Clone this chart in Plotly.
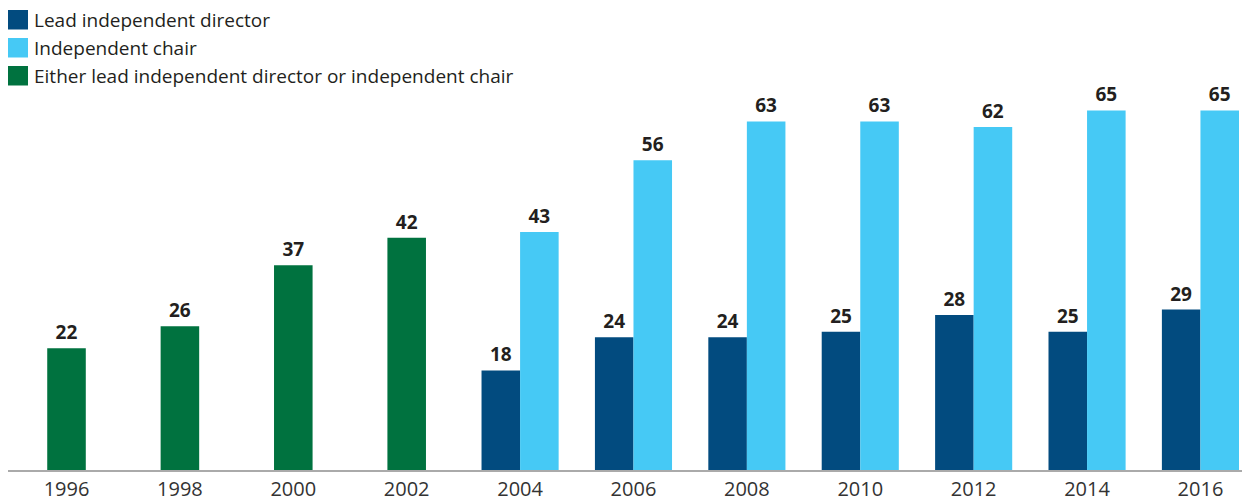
import plotly.graph_objects as go

years = ["1996", "1998", "2000", "2002", "2004", "2006", "2008", "2010", "2012", "2014", "2016"]
lead_director = [None, None, None, None, 18, 24, 24, 25, 28, 25, 29]
independent_chair = [None, None, None, None, 43, 56, 63, 63, 62, 65, 65]
either_role = [22, 26, 37, 42, None, None, None, None, None, None, None]

names = ["Lead independent director", "Independent chair",
         "Either lead independent director or independent chair"]
colors = ["#024b7f", "#46c9f5", "#00723f"]

# page body has an 8px margin, so the figure is sized/offset to compensate
W, H = 1242, 496
ML, MR, MT, MB = 0, 0, 88, 34
PW, PH = W - ML - MR, H - MT - MB
BW = 0.34
FONT = "Open Sans"

def lbl(vals):
    return [str(v) if v is not None else "" for v in vals]

fig = go.Figure()
fig.add_trace(go.Bar(x=years, y=either_role, name=names[2], marker_color=colors[2],
                     width=BW, offset=-BW / 2, text=lbl(either_role)))
fig.add_trace(go.Bar(x=years, y=lead_director, name=names[0], marker_color=colors[0],
                     width=BW, offset=-BW, text=lbl(lead_director)))
fig.add_trace(go.Bar(x=years, y=independent_chair, name=names[1], marker_color=colors[1],
                     width=BW, offset=0, text=lbl(independent_chair)))
fig.update_traces(textposition="outside", cliponaxis=False, marker_line_width=0,
                  textfont=dict(family=FONT, size=19, color="#231f20", weight="bold"),
                  showlegend=False)

# convert reference-picture pixels to paper coordinates
def px_x(x):
    return (x - 8 - ML) / PW

def px_y(y):
    return (H - MB - (y - 8)) / PH

shapes, annots = [], []
for i, (n, c) in enumerate(zip(names, colors)):
    top = 10 + i * 28
    shapes.append(dict(type="rect", xref="paper", yref="paper",
                       x0=px_x(8), x1=px_x(28), y0=px_y(top + 19.5), y1=px_y(top),
                       fillcolor=c, line_width=0))
    annots.append(dict(xref="paper", yref="paper", x=px_x(32), y=px_y(top + 10),
                       text=n, showarrow=False, xanchor="left", yanchor="middle",
                       font=dict(family=FONT, size=19, color="#231f20")))

fig.update_layout(
    width=W, height=H, barmode="overlay",
    margin=dict(l=ML, r=MR, t=MT, b=MB, pad=0),
    plot_bgcolor="white", paper_bgcolor="white",
    shapes=shapes, annotations=annots,
    xaxis=dict(type="category", range=[-0.516, 10.437], showgrid=False,
               showline=True, linecolor="#aaaaaa", linewidth=2, ticks="",
               tickfont=dict(family=FONT, size=20, color="#333333")),
    yaxis=dict(range=[0, 67.6], visible=False, showgrid=False),
)
fig.write_html("out.html")
